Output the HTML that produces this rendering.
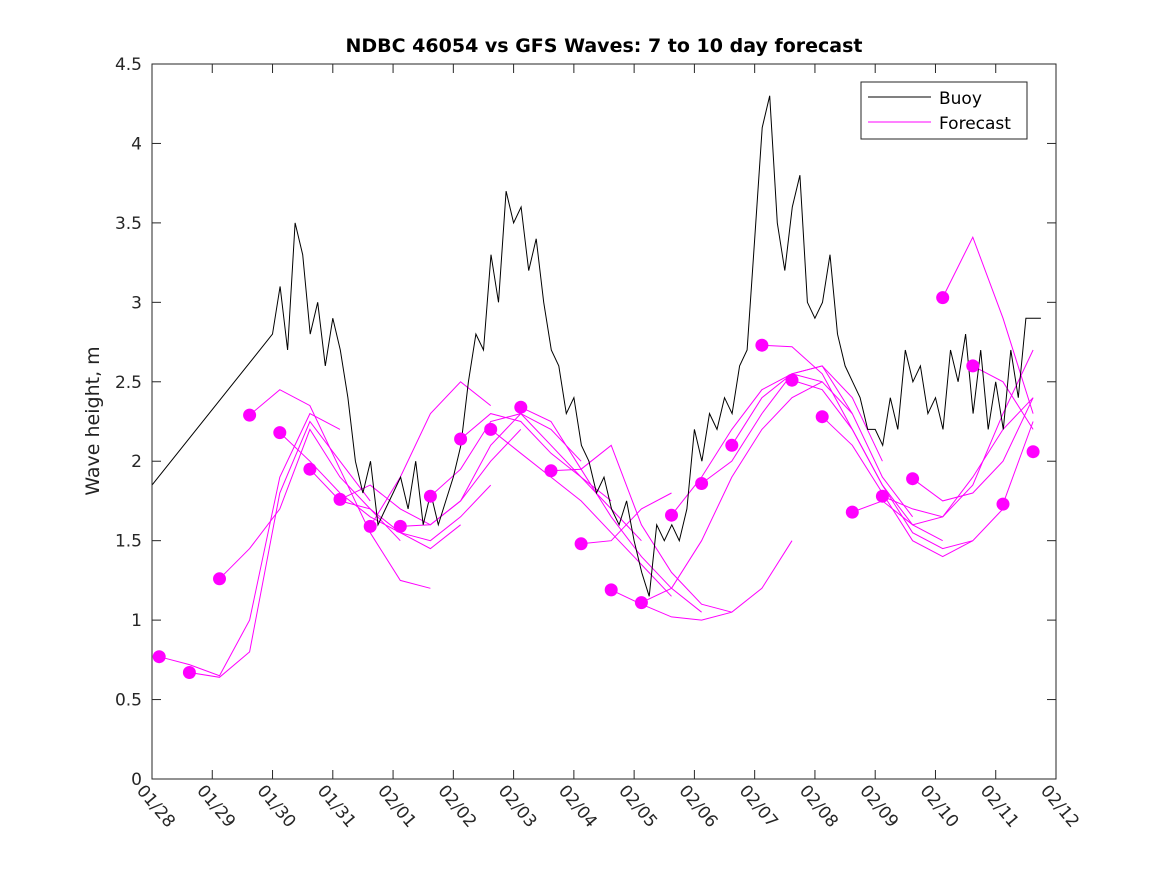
<!DOCTYPE html>
<html><head><meta charset="utf-8"><style>
body{margin:0;background:#fff;font-family:"Liberation Sans","DejaVu Sans",sans-serif}
svg{display:block}
</style></head><body>
<svg id="chart" width="1167" height="875">
<rect width="1167" height="875" fill="#fff"/>
<text x="604" y="52" text-anchor="middle" font-size="19" font-weight="bold" fill="#000" font-family="DejaVu Sans,sans-serif">NDBC 46054 vs GFS Waves: 7 to 10 day forecast</text>
<text transform="translate(99,421) rotate(-90)" text-anchor="middle" font-size="19" fill="#222" font-family="DejaVu Sans,sans-serif">Wave height, m</text>
<g id="plot"></g>
<g id="axes"></g>
<g>
<rect x="861" y="82" width="166" height="57" fill="#fff" stroke="#262626" stroke-width="1"/>
<line x1="868" y1="97" x2="931" y2="97" stroke="#000" stroke-width="1"/>
<text x="939" y="104" font-size="17" fill="#000" font-family="DejaVu Sans,sans-serif">Buoy</text>
<line x1="868" y1="122" x2="931" y2="122" stroke="#ff00ff" stroke-width="1"/>
<text x="939" y="129" font-size="17" fill="#000" font-family="DejaVu Sans,sans-serif">Forecast</text>
</g>
</svg>
<script>
const xTickLabels=["01/28","01/29","01/30","01/31","02/01","02/02","02/03","02/04","02/05","02/06","02/07","02/08","02/09","02/10","02/11","02/12"];
const yTicks=[0,0.5,1,1.5,2,2.5,3,3.5,4,4.5];
const buoyFirst=[0,1.85];
const buoyStart=2.0;
const buoyStep=0.125;
const buoyValues=[2.8,3.1,2.7,3.5,3.3,2.8,3.0,2.6,
2.9,2.7,2.4,2.0,1.8,2.0,1.6,1.7,
1.8,1.9,1.7,2.0,1.6,1.8,1.6,1.75,
1.9,2.1,2.5,2.8,2.7,3.3,3.0,3.7,
3.5,3.6,3.2,3.4,3.0,2.7,2.6,2.3,
2.4,2.1,2.0,1.8,1.9,1.7,1.6,1.75,
1.5,1.3,1.15,1.6,1.5,1.6,1.5,1.7,
2.2,2.0,2.3,2.2,2.4,2.3,2.6,2.7,
3.4,4.1,4.3,3.5,3.2,3.6,3.8,3.0,
2.9,3.0,3.3,2.8,2.6,2.5,2.4,2.2,
2.2,2.1,2.4,2.2,2.7,2.5,2.6,2.3,
2.4,2.2,2.7,2.5,2.8,2.3,2.7,2.2,
2.5,2.2,2.7,2.4,2.9,2.9,2.9];
const fcStart=0.12;
const fcSpacing=0.5;
const fcStep=0.5;
const fcSegments=[
[0.77,0.72,0.65,1.0,1.9,2.3,2.2],
[0.67,0.64,0.8,1.8,2.25,2.0,1.75],
[1.26,1.45,1.7,2.2,1.9,1.7,1.5],
[2.29,2.45,2.35,1.95,1.55,1.25,1.2],
[2.18,2.0,1.8,1.65,1.55,1.45,1.6],
[1.95,1.75,1.7,1.55,1.5,1.65,1.85],
[1.76,1.85,1.7,1.6,1.75,2.0,2.2],
[1.59,1.9,2.3,2.5,2.35],
[1.59,1.6,1.75,2.1,2.3,2.2,2.0],
[1.78,1.95,2.25,2.3,2.1,1.9,1.75],
[2.14,2.3,2.25,2.05,1.9,1.7,1.5],
[2.20,2.05,1.9,1.75,1.55,1.35,1.15],
[2.34,2.25,1.95,1.65,1.4,1.2,1.05],
[1.94,1.95,2.1,1.6,1.3,1.1,1.05],
[1.48,1.5,1.7,1.8],
[1.19,1.1,1.02,1.0,1.05,1.2,1.5],
[1.11,1.2,1.5,1.9,2.2,2.4,2.5],
[1.66,1.9,2.2,2.45,2.55,2.5,2.3],
[1.86,2.0,2.3,2.55,2.6,2.4,2.0],
[2.10,2.4,2.55,2.6,2.3,1.9,1.65],
[2.73,2.72,2.55,2.2,1.85,1.6,1.5],
[2.51,2.45,2.2,1.85,1.55,1.45,1.5],
[2.28,2.1,1.8,1.5,1.4,1.5,1.7],
[1.68,1.75,1.6,1.65,1.9,2.2,2.4],
[1.78,1.7,1.65,1.85,2.3,2.7,3.2],
[1.89,1.75,1.8,2.0,2.4,2.8,2.5],
[3.03,3.41,2.9,2.3,1.8,1.55,1.7],
[2.60,2.5,2.2,1.8,1.9,2.0],
[1.73,2.25,1.6],
[2.06,2.2]];
const X0=152,X1=1056,Y0=779,Y1=64,DAYS=15,YMAX=4.5;
const xs=d=>X0+(X1-X0)*d/DAYS;
const ys=v=>Y0-(Y0-Y1)*v/YMAX;
const NS="http://www.w3.org/2000/svg";
const plot=document.getElementById('plot'),axes=document.getElementById('axes');
function mk(tag,attrs,parent){const e=document.createElementNS(NS,tag);for(const k in attrs)e.setAttribute(k,attrs[k]);parent.appendChild(e);return e;}
fcSegments.forEach((seg,i)=>{
  const t0=fcStart+i*fcSpacing;
  const pts=[];
  seg.forEach((v,j)=>{const t=t0+j*fcStep;if(t<=DAYS)pts.push(xs(t).toFixed(1)+','+ys(v).toFixed(1));});
  const pl=mk('polyline',{points:pts.join(' '),fill:'none',stroke:'#ff00ff','stroke-width':1},plot);
  
  
});
{
  const pts=[xs(buoyFirst[0])+','+ys(buoyFirst[1])];
  buoyValues.forEach((v,j)=>{pts.push(xs(buoyStart+j*buoyStep).toFixed(1)+','+ys(v).toFixed(1));});
  const pl=mk('polyline',{points:pts.join(' '),fill:'none',stroke:'#000','stroke-width':1},plot);
  
  
}
fcSegments.forEach((seg,i)=>{
  const c=mk('circle',{cx:xs(fcStart+i*fcSpacing).toFixed(1),cy:ys(seg[0]).toFixed(1),r:6.5,fill:'#ff00ff'},plot);
  
  
});
const box=mk('rect',{x:X0,y:Y1,width:X1-X0,height:Y0-Y1,fill:'none',stroke:'#262626','stroke-width':1},axes);


yTicks.forEach(v=>{
  const y=ys(v);
  mk('line',{x1:X0,y1:y,x2:X0+9,y2:y,stroke:'#262626'},axes);
  mk('line',{x1:X1,y1:y,x2:X1-9,y2:y,stroke:'#262626'},axes);
  const t=mk('text',{x:X0-10,y:y+6,'text-anchor':'end','font-size':17,fill:'#262626','font-family':'DejaVu Sans,sans-serif'},axes);
  t.textContent=String(v);
  
  
});
xTickLabels.forEach((lab,i)=>{
  const x=xs(i);
  mk('line',{x1:x,y1:Y0,x2:x,y2:Y0-9,stroke:'#262626'},axes);
  mk('line',{x1:x,y1:Y1,x2:x,y2:Y1+9,stroke:'#262626'},axes);
  const t=mk('text',{transform:`translate(${x-16},${Y0+12}) rotate(50)`,'font-size':17,fill:'#262626','font-family':'DejaVu Sans,sans-serif'},axes);
  t.textContent=lab;
  
  
});
</script>
</body></html>
